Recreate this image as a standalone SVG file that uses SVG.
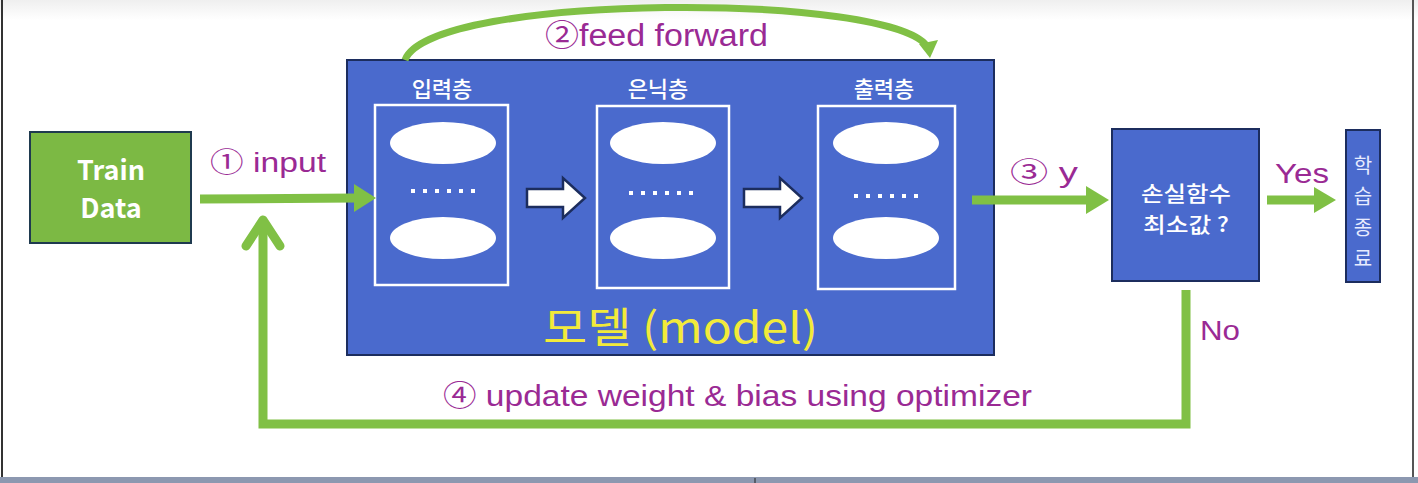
<svg xmlns="http://www.w3.org/2000/svg" width="1418" height="483" viewBox="0 0 1418 483">
<defs>
<style>
.lbl{font-family:"Liberation Sans","Noto Sans CJK KR",sans-serif;fill:#9a2a94}
.kr{font-family:"Noto Sans CJK KR",sans-serif}
.wire{fill:none;stroke:#80c045;stroke-width:9}
.layer{fill:none;stroke:#ffffff;stroke-width:2.5}
.neuron{fill:#ffffff}
.dot{fill:#ffffff}
.blue{fill:#4a6acd;stroke:#1c2d5e;stroke-width:2}
.hollow{fill:#ffffff;stroke:#1c2d5e;stroke-width:2.5;stroke-linejoin:miter}
</style>
<linearGradient id="topg" x1="0" y1="0" x2="0" y2="1">
<stop offset="0" stop-color="#efefef"/>
<stop offset="1" stop-color="#ffffff"/>
</linearGradient>
</defs>
<rect x="0" y="0" width="1418" height="483" fill="#ffffff"/>
<rect x="0" y="0" width="1418" height="20" fill="url(#topg)"/>
<line x1="2" y1="0" x2="2" y2="478" stroke="#333" stroke-width="2"/>
<line x1="1413" y1="0" x2="1413" y2="478" stroke="#555" stroke-width="2"/>
<rect x="0" y="477" width="1418" height="6" fill="#8c98b0"/>
<line x1="755" y1="478" x2="755" y2="483" stroke="#222" stroke-width="1"/>

<g id="train-data">
<rect x="30" y="132" width="161" height="111" fill="#7cb944" stroke="#1f3a4f" stroke-width="2"/>
<text x="111" y="180" text-anchor="middle" font-family="Noto Sans CJK KR, sans-serif" font-weight="bold" font-size="27" fill="#ffffff">Train</text>
<text x="111" y="218" text-anchor="middle" font-family="Noto Sans CJK KR, sans-serif" font-weight="bold" font-size="27" fill="#ffffff">Data</text>
</g>

<g id="model">
<rect x="347" y="60" width="647" height="295" class="blue"/>
<text x="442" y="97" text-anchor="middle" class="kr" font-size="22" font-weight="500" fill="#ffffff">입력층</text>
<text x="658" y="97" text-anchor="middle" class="kr" font-size="22" font-weight="500" fill="#ffffff">은닉층</text>
<text x="884" y="97" text-anchor="middle" class="kr" font-size="22" font-weight="500" fill="#ffffff">출력층</text>
<text x="543" y="343" font-family="Noto Sans CJK KR, sans-serif" font-size="42" fill="#f2ea3a" textLength="275" lengthAdjust="spacingAndGlyphs">모델 (model)</text>
</g>

<g id="input-layer">
<rect x="375" y="105" width="133" height="180" class="layer"/>
<ellipse cx="443" cy="143" rx="53" ry="21" class="neuron"/>
<ellipse cx="443" cy="238" rx="53" ry="21" class="neuron"/>
<g class="dot"><rect x="411" y="189" width="4" height="4"/><rect x="423" y="189" width="4" height="4"/><rect x="435" y="189" width="4" height="4"/><rect x="447" y="189" width="4" height="4"/><rect x="459" y="189" width="4" height="4"/><rect x="471" y="189" width="4" height="4"/></g>
</g>

<g id="hidden-layer">
<rect x="597" y="106" width="132" height="182" class="layer"/>
<ellipse cx="663" cy="143" rx="53" ry="21" class="neuron"/>
<ellipse cx="663" cy="238" rx="53" ry="21" class="neuron"/>
<g class="dot"><rect x="629" y="191" width="4" height="4"/><rect x="641" y="191" width="4" height="4"/><rect x="653" y="191" width="4" height="4"/><rect x="665" y="191" width="4" height="4"/><rect x="677" y="191" width="4" height="4"/><rect x="689" y="191" width="4" height="4"/></g>
</g>

<g id="output-layer">
<rect x="818" y="106" width="137" height="183" class="layer"/>
<ellipse cx="886" cy="143" rx="53" ry="21" class="neuron"/>
<ellipse cx="886" cy="238" rx="53" ry="21" class="neuron"/>
<g class="dot"><rect x="854" y="194" width="4" height="4"/><rect x="866" y="194" width="4" height="4"/><rect x="878" y="194" width="4" height="4"/><rect x="890" y="194" width="4" height="4"/><rect x="902" y="194" width="4" height="4"/><rect x="914" y="194" width="4" height="4"/></g>
</g>

<g id="loss-check">
<rect x="1112" y="129" width="147" height="152" class="blue"/>
<text x="1186" y="201" text-anchor="middle" class="kr" font-size="21" font-weight="500" fill="#ffffff" textLength="90" lengthAdjust="spacingAndGlyphs">손실함수</text>
<text x="1186" y="232" text-anchor="middle" class="kr" font-size="21" font-weight="500" fill="#ffffff" textLength="86" lengthAdjust="spacingAndGlyphs">최소값 ?</text>
</g>

<g id="train-end">
<rect x="1346" y="130" width="34" height="152" class="blue"/>
<g class="kr" font-size="20" fill="#e8ecff" text-anchor="middle">
<text x="1363" y="173">학</text>
<text x="1363" y="204">습</text>
<text x="1363" y="235">종</text>
<text x="1363" y="266">료</text>
</g>
</g>

<g id="connectors">
<path d="M527,189 H563 V178 L585,198 L563,218 V207 H527 Z" class="hollow"/>
<path d="M744,189 H780 V178 L802,198 L780,218 V207 H744 Z" class="hollow"/>
<line x1="200" y1="199" x2="356" y2="198" class="wire"/>
<path d="M354,184 L376,198 L354,212 Z" fill="#80c045"/>
<line x1="972" y1="200" x2="1088" y2="200" class="wire"/>
<path d="M1086,186 L1109,200 L1086,214 Z" fill="#80c045"/>
<line x1="1267" y1="200" x2="1316" y2="200" class="wire"/>
<path d="M1314,187 L1336,200 L1314,213 Z" fill="#80c045"/>
<path d="M1186,290 V424 H263 V220" class="wire" stroke-linejoin="miter"/>
<path d="M246,246 L263,220 L280,246" class="wire" stroke-linecap="round" stroke-linejoin="round"/>
<path d="M405,60 C430,-8 900,-8 928,48" fill="none" stroke="#80c045" stroke-width="7"/>
<path d="M919,44 L938,40 L930,58 Z" fill="#80c045"/>
</g>

<g id="labels">
<text x="210" y="172" class="lbl" font-size="27" textLength="116" lengthAdjust="spacingAndGlyphs">① input</text>
<text x="545" y="46" class="lbl" font-size="31" textLength="223" lengthAdjust="spacingAndGlyphs">②feed forward</text>
<text x="1010" y="182" class="lbl" font-size="27" textLength="68" lengthAdjust="spacingAndGlyphs">③  y</text>
<text x="1275" y="183" class="lbl" font-size="28" textLength="54" lengthAdjust="spacingAndGlyphs">Yes</text>
<text x="1200" y="340" class="lbl" font-size="27" textLength="40" lengthAdjust="spacingAndGlyphs">No</text>
<text x="443" y="406" class="lbl" font-size="29" textLength="589" lengthAdjust="spacingAndGlyphs">④ update weight &amp; bias using optimizer</text>
</g>
</svg>
